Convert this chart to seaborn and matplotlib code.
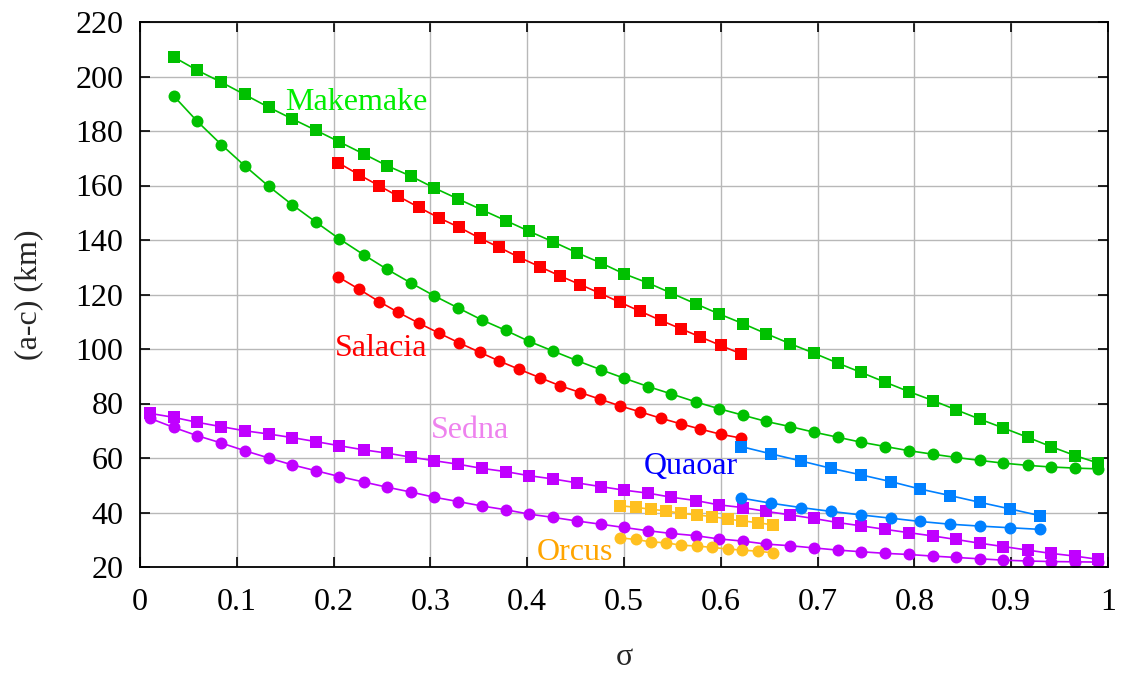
import matplotlib
matplotlib.use("Agg")
import matplotlib.pyplot as plt
import seaborn as sns

# ---- data ----
# sigma grid shared by Makemake (k=1..40) and Sedna (k=0..40)
sigma_sedna = [0.010, 0.035, 0.059, 0.084, 0.108, 0.133, 0.157, 0.182, 0.206, 0.231,
               0.255, 0.280, 0.304, 0.329, 0.353, 0.378, 0.402, 0.427, 0.451, 0.476,
               0.500, 0.525, 0.549, 0.574, 0.598, 0.623, 0.647, 0.672, 0.696, 0.721,
               0.745, 0.770, 0.794, 0.819, 0.843, 0.868, 0.892, 0.917, 0.941, 0.966,
               0.990]
sigma_makemake = sigma_sedna[1:]
sigma_salacia = [0.205, 0.226, 0.247, 0.267, 0.288, 0.309, 0.330, 0.351, 0.371, 0.392,
                 0.413, 0.434, 0.455, 0.475, 0.496, 0.517, 0.538, 0.559, 0.579, 0.600,
                 0.621]
sigma_quaoar = [0.621, 0.652, 0.683, 0.714, 0.745, 0.776, 0.806, 0.837, 0.868, 0.899, 0.930]
sigma_orcus = [0.496, 0.512, 0.528, 0.543, 0.559, 0.575, 0.591, 0.607, 0.622, 0.638, 0.654]

makemake_sq = [207.1, 202.3, 197.9, 193.4, 188.7, 184.5, 180.2, 176.0, 171.6, 167.3,
               163.4, 159.1, 155.0, 151.1, 147.1, 143.2, 139.3, 135.4, 131.6, 127.6,
               124.2, 120.5, 116.6, 112.9, 109.3, 105.6, 101.9, 98.5, 94.8, 91.4,
               87.8, 84.4, 81.1, 77.7, 74.2, 71.0, 67.6, 64.2, 60.9, 58.1]
makemake_ci = [192.8, 183.6, 175.0, 167.3, 159.7, 153.0, 146.5, 140.4, 134.6, 129.3,
               124.2, 119.5, 115.0, 110.7, 106.8, 102.8, 99.2, 95.8, 92.4, 89.3,
               86.2, 83.5, 80.6, 78.1, 75.7, 73.4, 71.5, 69.5, 67.6, 65.8,
               64.2, 62.7, 61.4, 60.2, 59.1, 58.1, 57.3, 56.7, 56.3, 56.0]
salacia_sq = [168.3, 164.0, 159.9, 156.0, 152.0, 148.1, 144.6, 140.7, 137.3, 133.6,
              130.2, 126.8, 123.6, 120.5, 117.1, 113.8, 110.5, 107.4, 104.4, 101.3,
              98.2]
salacia_ci = [126.4, 122.0, 117.4, 113.4, 109.5, 105.8, 102.2, 98.8, 95.6, 92.5,
              89.5, 86.5, 84.0, 81.6, 79.1, 76.9, 74.6, 72.5, 70.6, 68.7,
              67.3]
sedna_sq = [76.4, 74.9, 73.1, 71.5, 70.0, 68.8, 67.5, 66.0, 64.5, 63.0,
            61.8, 60.3, 59.0, 57.7, 56.2, 55.0, 53.5, 52.3, 50.9, 49.5,
            48.2, 47.1, 45.6, 44.4, 42.8, 41.8, 40.4, 39.1, 37.8, 36.3,
            35.1, 33.8, 32.6, 31.4, 30.1, 28.7, 27.5, 26.2, 25.0, 24.0,
            22.8]
sedna_ci = [74.6, 71.2, 68.2, 65.5, 62.7, 60.0, 57.5, 55.3, 53.2, 51.2,
            49.3, 47.5, 45.6, 44.0, 42.4, 41.0, 39.4, 38.2, 36.9, 35.7,
            34.5, 33.3, 32.3, 31.5, 30.3, 29.5, 28.4, 27.8, 27.0, 26.2,
            25.6, 25.0, 24.6, 24.0, 23.5, 23.0, 22.5, 22.2, 22.0, 21.9,
            21.8]
quaoar_sq = [64.2, 61.5, 58.9, 56.2, 53.8, 51.3, 48.6, 46.2, 43.7, 41.3, 38.8]
quaoar_ci = [45.3, 43.4, 41.8, 40.4, 39.1, 37.9, 36.7, 35.7, 35.0, 34.4, 33.8]
orcus_sq = [42.5, 41.9, 41.2, 40.6, 39.7, 39.1, 38.5, 37.6, 36.9, 36.3, 35.4]
orcus_ci = [30.7, 30.1, 29.2, 28.9, 28.0, 27.7, 27.2, 26.6, 26.2, 25.8, 25.2]

# name, label x, label baseline y, label colour
labels = [
    ("Makemake", 0.150, 187.6, "#00ee00"),
    ("Salacia", 0.201, 97.5, "#ff0000"),
    ("Sedna", 0.301, 67.5, "#ee82ee"),
    ("Quaoar", 0.520, 54.0, "#0000ff"),
    ("Orcus", 0.410, 22.6, "#ffa500"),
]

series = [
    (sigma_sedna, sedna_sq, sedna_ci, "#c000ff"),
    (sigma_makemake, makemake_sq, makemake_ci, "#00c000"),
    (sigma_salacia, salacia_sq, salacia_ci, "#ff0000"),
    (sigma_quaoar, quaoar_sq, quaoar_ci, "#0080ff"),
    (sigma_orcus, orcus_sq, orcus_ci, "#ffc020"),
]

sns.set_style("ticks")
plt.rcParams["font.family"] = ["Liberation Serif", "DejaVu Serif"]

fig = plt.figure(figsize=(11.21, 6.73), dpi=100)
ax = fig.add_axes([140 / 1121, 106 / 673, 968 / 1121, 545 / 673])

for xs, ysq, yci, col in series:
    sns.lineplot(x=xs, y=ysq, ax=ax, color=col, marker="s", markersize=8.0,
                 markeredgewidth=0, linewidth=1.2, sort=False)
    sns.lineplot(x=xs, y=yci, ax=ax, color=col, marker="o", markersize=8.6,
                 markeredgewidth=0, linewidth=1.2, sort=False)

for name, lx, ly, col in labels:
    ax.text(lx, ly, name, color=col, fontsize=23, ha="left", va="baseline")

ax.set_xlim(0, 1)
ax.set_ylim(20, 220)
ax.set_xticks([0, 0.1, 0.2, 0.3, 0.4, 0.5, 0.6, 0.7, 0.8, 0.9, 1])
ax.set_xticklabels(["0", "0.1", "0.2", "0.3", "0.4", "0.5", "0.6", "0.7", "0.8", "0.9", "1"])
ax.set_yticks(range(20, 221, 20))
ax.grid(True, color="#b8b8b8", linewidth=1.0)
ax.set_axisbelow(True)
ax.tick_params(direction="in", length=7, width=1.2, top=True, right=True,
               labelsize=23, colors="black")
ax.tick_params(axis="x", pad=15)
ax.tick_params(axis="y", pad=12)
for sp in ax.spines.values():
    sp.set_color("black")
    sp.set_linewidth(1.3)

ax.set_xlabel("σ", fontsize=23)
ax.set_ylabel("(a-c) (km)", fontsize=23)
ax.xaxis.set_label_coords(0.5, -0.14)
ax.yaxis.set_label_coords(-0.10, 0.50)

fig.savefig("out.png", dpi=100)
